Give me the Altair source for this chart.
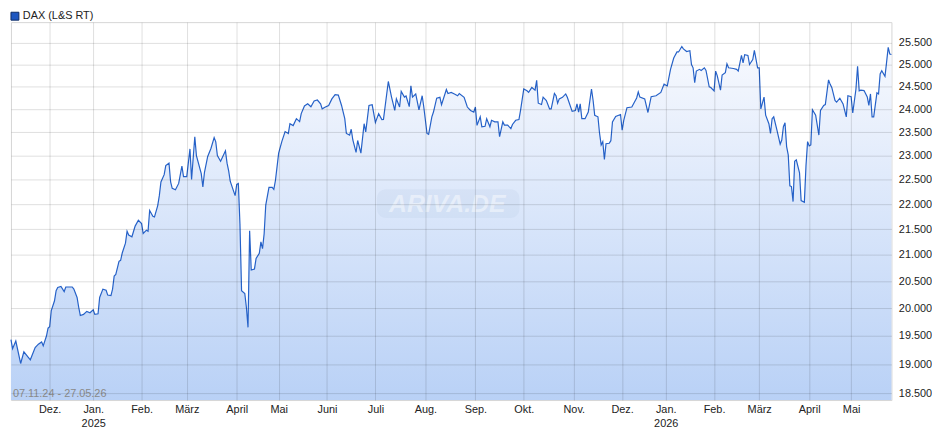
import json
import altair as alt
import pandas as pd

# ---------------- data ----------------
SERIES = "DAX (L&S RT)"
RANGE_TEXT = "07.11.24 - 27.05.26"
WATERMARK = "ARIVA.DE"
FIRST_DAY = "2024-11-07"
LAST_DAY = "2026-05-27"
# days without a quote (holidays) - the x axis runs over quoted days only
NO_QUOTE_DAYS = [
    "2024-12-24", "2024-12-25", "2024-12-26", "2024-12-31", "2025-01-01",
    "2025-04-18", "2025-04-19", "2025-04-20", "2025-04-21", "2025-05-01",
    "2025-12-24", "2025-12-25", "2025-12-26", "2025-12-31", "2026-01-01",
    "2026-04-03", "2026-04-04", "2026-04-05", "2026-04-06", "2026-05-01",
]

# quoted-day number (0 = 07.11.24) of each reading, and the DAX level
SESSION = [
    0, 1, 3, 6, 8, 12, 15, 17, 19, 20, 22, 23, 24, 25, 27, 28, 29, 31, 33, 34,
    38, 39, 41, 42, 43, 45, 47, 49, 51, 52, 54, 55, 57, 59, 60, 62, 63, 64, 65, 67,
    68, 69, 71, 72, 73, 75, 77, 79, 81, 82, 84, 85, 86, 88, 89, 91, 92,
    93, 95, 96, 98, 99, 100, 102, 104, 106, 107, 109, 111, 112, 114, 115, 118, 119, 120,
    122, 124, 126, 127, 128, 130, 133, 134, 135, 136, 139, 140, 141, 142, 143, 145, 146,
    147, 148, 149, 151, 152, 154, 155, 156, 157, 158, 160, 162, 163, 164,
    166, 168, 170, 172, 173, 175, 177, 179, 180, 182, 184, 186, 188, 190, 192, 193,
    195, 197, 199, 201, 203, 205, 207, 208, 210, 211, 212, 214, 215, 217, 219, 220,
    222, 224, 226, 228, 230, 231, 234, 236, 238, 239, 241, 242, 244, 245, 247, 248,
    249, 251, 253, 255, 256, 258, 259, 261, 262, 264, 266, 267, 270, 271, 273, 275,
    277, 278, 281, 283, 285, 287, 288, 289, 291, 292, 294, 295, 297, 298, 300, 302,
    303, 305, 306, 308, 310, 311, 313, 315, 316, 318, 320, 321, 323, 325, 326, 327,
    329, 330, 332, 334, 335, 337, 338, 339, 340, 342, 344, 345, 346, 348, 350, 351,
    352, 353, 354, 356, 358, 360, 361, 362, 364, 365, 366, 367, 368, 369, 371, 372,
    373, 375, 378, 379, 380, 382, 385, 388, 389, 390, 393, 395, 397, 400, 403, 405,
    407, 409, 411, 413, 414, 416, 417, 419, 421, 422, 423, 424, 425, 427, 428, 430,
    431, 433, 434, 436, 437, 438, 440, 441, 443, 444, 445, 448, 450, 451, 453, 454,
    455, 457, 458, 460, 461, 463, 464, 465, 467, 468, 470, 471, 472, 473, 475, 477,
    478, 479, 480, 481, 482, 483, 484, 485, 486, 487, 489, 490, 492, 493, 494, 495,
    496, 497, 499, 501, 502, 504, 505, 507, 508, 509, 511, 512, 514, 516, 518, 519,
    521, 522, 524, 525, 526, 527, 529, 531, 532, 533, 534, 535, 537, 538, 539, 540,
    542, 543, 544, 545, 546,
]
CLOSE = [
    19430, 19270, 19405, 19010, 19215, 19075, 19290, 19350, 19390, 19320, 19495, 19635, 19660, 19955, 20135, 20320, 20380, 20400, 20305, 20390,
    20390, 20350, 20195, 20015, 19865, 19885, 19940, 19915, 19970, 19885, 19895, 20195, 20350, 20330, 20240, 20230, 20350, 20595, 20625, 20875,
    20895, 21035, 21225, 21460, 21385, 21350, 21560, 21675, 21610, 21415, 21480, 21460, 21870, 21755, 21740, 21970, 22170,
    22450, 22600, 22790, 22840, 22450, 22320, 22290, 22420, 22780, 22560, 22560, 23140, 22500, 23400, 23000, 22620, 22350, 22650,
    22980, 23150, 23380, 23290, 23000, 22880, 23100, 22840, 22680, 22460, 22170, 22400, 22420, 21600, 20320, 20270, 20010,
    19650, 21470, 20710, 20730, 20930, 21030, 21250, 21120, 21410, 21980, 22340, 22340, 22300, 22480,
    23050, 23300, 23510, 23470, 23680, 23640, 23790, 23725, 23900, 24070, 24115, 24050, 24180, 24200, 24115, 24005,
    24045, 24080, 24225, 24320, 24310, 24080, 23790, 23470, 23435, 23560, 23330, 23065, 23320, 23050, 23680, 23505,
    24080, 24095, 23705, 23900, 23770, 23775, 24615, 24265, 23970, 24225, 24045, 24390, 24265, 24290, 24055, 24515,
    24265, 24335, 23985, 24295, 24045, 23470, 23450, 23830, 23935, 24240, 24260, 24095, 24435, 24345, 24370, 24335,
    24295, 24345, 24260, 24045, 23970, 23935, 24045, 23645, 23830, 23615, 23625, 23790, 23615, 23755, 23720, 23720,
    23400, 23720, 23650, 23650, 23575, 23665, 23755, 23770, 23970, 24445, 24405, 24370, 24480, 24420, 24640, 24130,
    24100, 24265, 24190, 24005, 24005, 24345, 24295, 24130, 24225, 24260, 24335, 24260, 24155, 23950, 23970, 24115,
    23935, 24115, 23790, 23790, 23935, 24445, 24190, 23865, 23830, 23470, 23225, 23295, 22920, 23250, 23260, 23315,
    23720, 23840, 23880, 23540, 23755, 24030, 24045, 24245, 24380, 24265, 24225, 23925, 24275, 24295, 24370, 24555,
    24515, 24890, 25150, 25290, 25290, 25415, 25360, 25300, 25320, 25000, 24925, 24590, 24850, 24890, 24865, 24925,
    24865, 24495, 24480, 24405, 24850, 24740, 24420, 24760, 24815, 25015, 24925, 24910, 24890, 24850, 25210, 25040,
    25225, 25210, 25000, 25115, 25325, 24925, 24925, 24005, 24265, 23865, 23680, 23470, 23790, 23830, 23540, 23240,
    23330, 23615, 23700, 23190, 23015, 22370, 22355, 22050, 22880, 22910, 22640, 22070, 22035, 22780, 23295, 23205,
    23225, 23985, 23865, 23435, 23970, 24080, 24100, 24650, 24550, 24480, 24190, 24155, 24240, 24115, 23830, 24295,
    24275, 23915, 24445, 24960, 24405, 24420, 24410, 24270, 24080, 24335, 23830, 23830, 24360, 24335, 24785, 24860,
    24730, 25055, 25395, 25240, 25230,
]

MONTHS = ["Jan.", "Feb.", "März", "April", "Mai", "Juni", "Juli",
          "Aug.", "Sep.", "Okt.", "Nov.", "Dez."]
Y_TICKS = [18500, 19000, 19500, 20000, 20500, 21000, 21500, 22000,
           22500, 23000, 23500, 24000, 24500, 25000, 25500]
Y_DOMAIN = [18384, 25990]

# ---------------- derived tables ----------------
days = pd.date_range(FIRST_DAY, LAST_DAY, freq="D")
days = days[~days.isin(pd.to_datetime(NO_QUOTE_DAYS))]
n_days = len(days)

df = pd.DataFrame({
    "session": SESSION,
    "date": days[SESSION].strftime("%d.%m.%Y"),
    "value": CLOSE,
})

tick_sessions, tick_labels = [], []
for i in range(1, n_days):
    if days[i].month != days[i - 1].month:
        tick_sessions.append(i)
        name = MONTHS[days[i].month - 1]
        tick_labels.append([name, str(days[i].year)] if days[i].month == 1 else name)

x_label_expr = f"{json.dumps(tick_labels, ensure_ascii=False)}[indexof({json.dumps(tick_sessions)}, datum.value)]"
y_label_expr = "replace(format(datum.value, ','), ',', '.')"

# ---------------- style ----------------
FONT = "Liberation Sans"
LINE = "#2561c8"
PLOT_W, PLOT_H = 890, 382

x_enc = alt.X(
    "session:Q",
    scale=alt.Scale(domain=[0, n_days - 1], nice=False, zero=False),
    axis=alt.Axis(
        values=tick_sessions, labelExpr=x_label_expr, title=None,
        ticks=False, tickSize=0, domain=False, grid=True,
        gridColor="#000000", gridOpacity=0.13, gridWidth=1,
        labelFont=FONT, labelFontSize=11, labelColor="#222222",
        labelPadding=4, labelLineHeight=14, labelOverlap=False,
        labelFlush=False, labelBound=False, zindex=1,
    ),
)
y_enc = alt.Y(
    "value:Q",
    scale=alt.Scale(type="log", domain=Y_DOMAIN, nice=False, zero=False),
    axis=alt.Axis(
        orient="right", values=Y_TICKS, labelExpr=y_label_expr, title=None,
        ticks=False, tickSize=0, domain=False, grid=True,
        gridColor="#000000", gridOpacity=0.13, gridWidth=1,
        labelFont=FONT, labelFontSize=11, labelColor="#222222",
        labelPadding=7, labelOverlap=False, labelFlush=False, zindex=1,
    ),
)

base = alt.Chart(df)

area = base.mark_area(
    color=alt.Gradient(
        gradient="linear",
        stops=[alt.GradientStop(color="#f7f9fe", offset=0),
               alt.GradientStop(color="#b9d1f6", offset=1)],
        x1=1, x2=1, y1=0, y2=1,
    ),
    interpolate="linear",
).encode(x=x_enc, y=y_enc, y2=alt.datum(Y_DOMAIN[0]))

line = base.mark_line(color=LINE, strokeWidth=1.2).encode(
    x=x_enc, y=y_enc,
    tooltip=[alt.Tooltip("date:N", title="Datum"), alt.Tooltip("value:Q", title=SERIES)],
)

label_df = pd.DataFrame({"series": [SERIES], "range": [RANGE_TEXT], "mark": [WATERMARK]})
labels = alt.Chart(label_df)

legend_square = labels.mark_square(
    size=64, fill="#1d56c0", stroke="#0c2a66", strokeWidth=1, opacity=1
).encode(x=alt.value(4), y=alt.value(-6))
legend_text = labels.mark_text(
    align="left", baseline="middle", font=FONT, fontSize=11, color="#222222"
).encode(x=alt.value(12), y=alt.value(-6), text="series:N")

range_text = labels.mark_text(
    align="left", baseline="middle", font=FONT, fontSize=11, color="#8a8a8a"
).encode(x=alt.value(2), y=alt.value(PLOT_H - 6), text="range:N")

wm_box = labels.mark_rect(
    cornerRadius=9, fill="#9fb3d6", opacity=0.12
).encode(x=alt.value(370), x2=alt.value(514), y=alt.value(169), y2=alt.value(198))
wm_text = labels.mark_text(
    align="center", baseline="middle", font=FONT, fontSize=25, fontStyle="italic",
    fontWeight="bold", color="#ffffff", opacity=0.45,
).encode(x=alt.value(441), y=alt.value(184), text="mark:N")

chart = alt.layer(
    area, wm_box, wm_text, line, range_text, legend_square, legend_text
).properties(
    width=PLOT_W, height=PLOT_H, padding=0, background="#ffffff",
).configure_view(
    stroke="#d6d6d6", strokeWidth=1,
).configure_text(font=FONT)

chart.save("out.html", embed_options={"renderer": "svg", "actions": False})
